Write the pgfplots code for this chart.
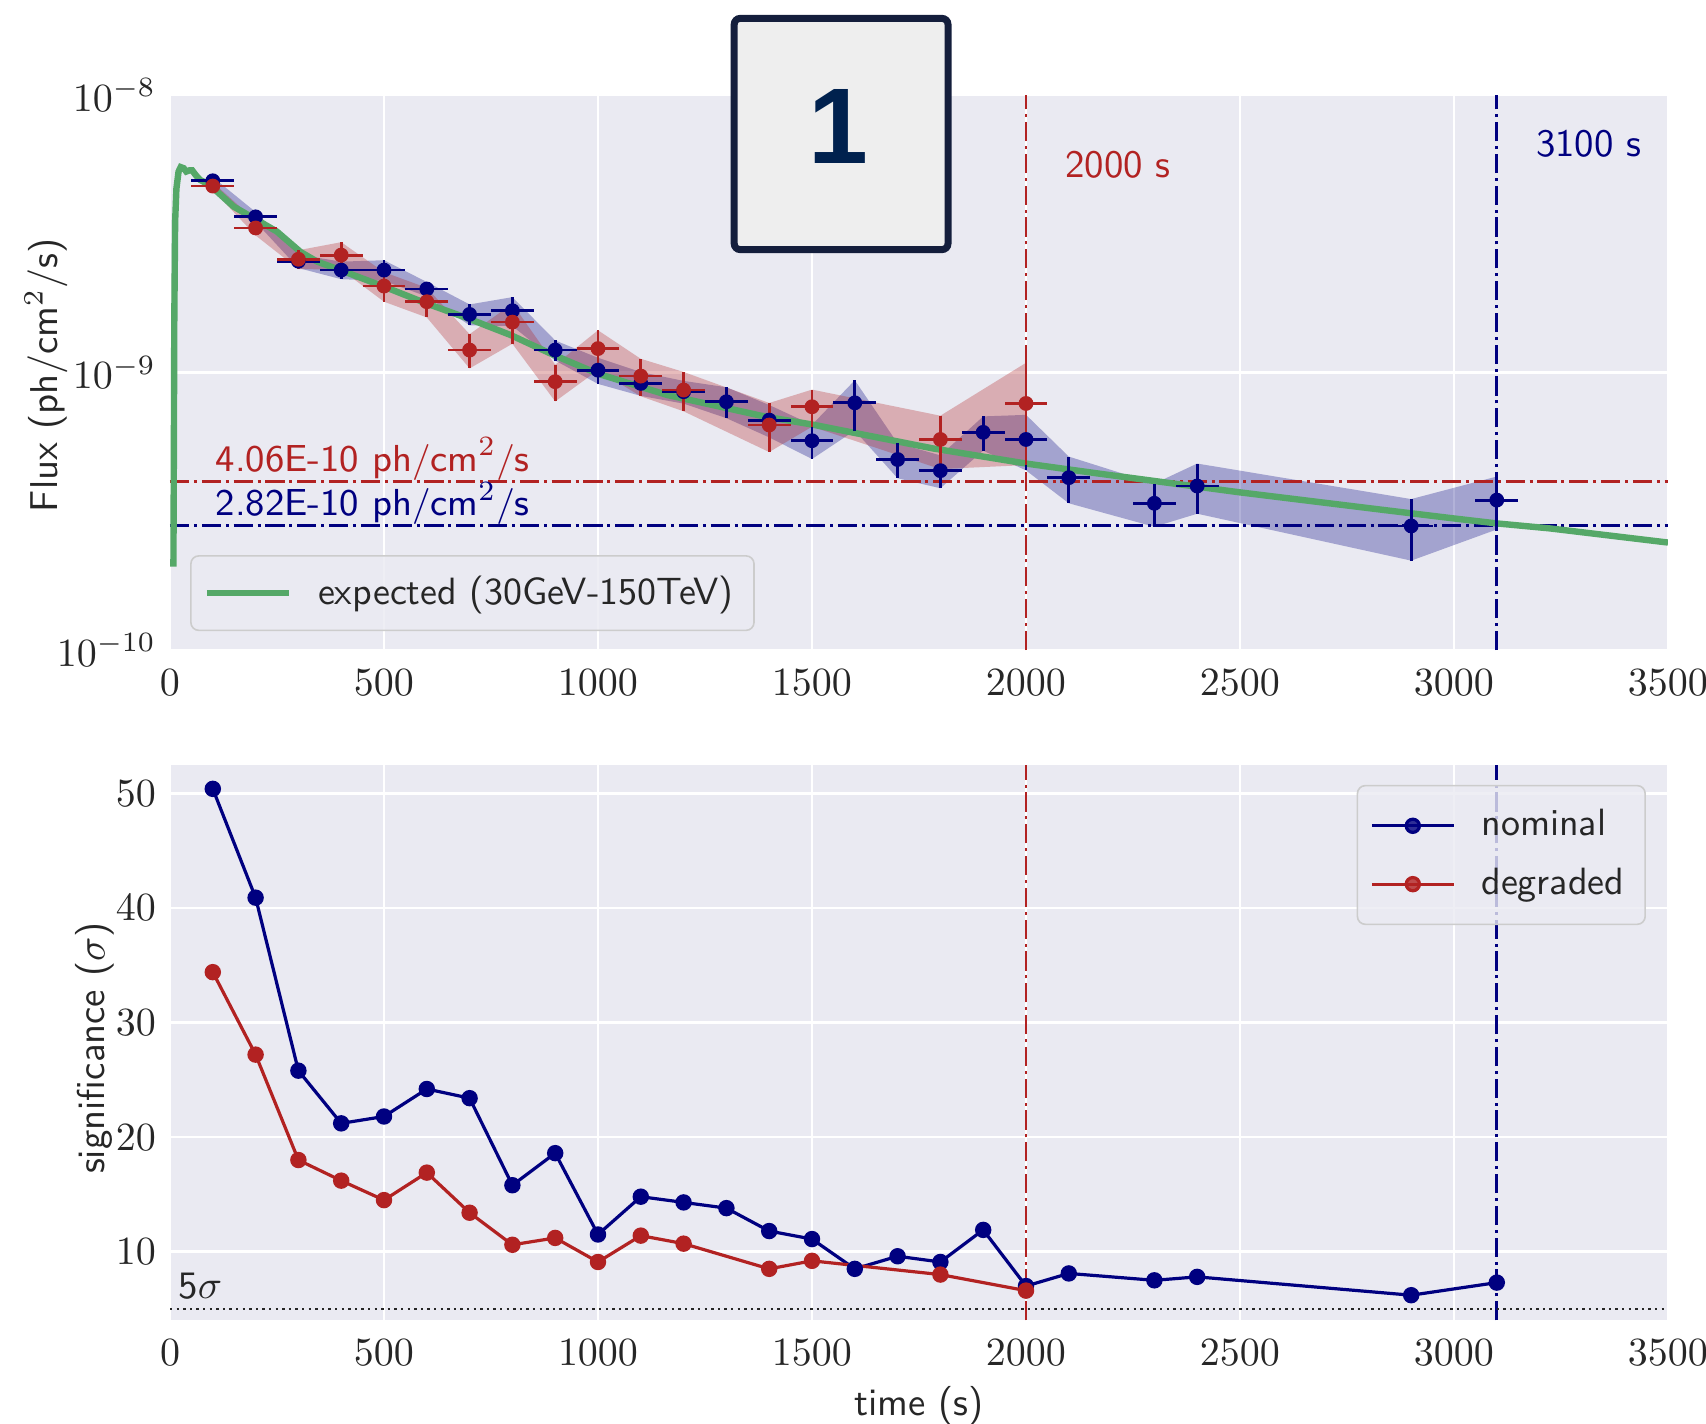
\documentclass[border=0pt]{standalone}
\usepackage{fontspec}
\usepackage{pgfplots}
\usepackage{pgfplotstable}
\pgfplotsset{compat=1.18}
\newfontfamily\boxfont{Liberation Sans}

\definecolor{axbg}{HTML}{EAEAF2}
\definecolor{navy}{HTML}{000080}
\definecolor{firebrick}{HTML}{B22222}
\definecolor{sgreen}{HTML}{55A868}
\definecolor{txt}{HTML}{262626}
\definecolor{legedge}{HTML}{CCCCCC}
\definecolor{boxfill}{HTML}{EEEEEE}
\definecolor{boxedge}{HTML}{141E3C}
\definecolor{boxdigit}{HTML}{00214E}

% flux light curves: time, flux, error
\pgfplotstableread{
t f e
100 4.91e-9 0.15e-9
200 3.64e-9 0.15e-9
300 2.52e-9 0.14e-9
400 2.34e-9 0.17e-9
500 2.34e-9 0.20e-9
600 2.00e-9 0.12e-9
700 1.62e-9 0.14e-9
800 1.67e-9 0.20e-9
900 1.205e-9 0.10e-9
1000 1.02e-9 0.11e-9
1100 0.914e-9 0.09e-9
1200 0.853e-9 0.08e-9
1300 0.785e-9 0.10e-9
1400 0.674e-9 0.09e-9
1500 0.568e-9 0.08e-9
1600 0.778e-9 0.16e-9
1700 0.486e-9 0.07e-9
1800 0.443e-9 0.06e-9
1900 0.609e-9 0.086e-9
2000 0.574e-9 0.13e-9
2100 0.418e-9 0.08e-9
2300 0.338e-9 0.06e-9
2400 0.390e-9 0.08e-9
2900 0.280e-9 0.07e-9
3100 0.347e-9 0.075e-9
}\fluxnom

\pgfplotstableread{
t f e
100 4.70e-9 0.15e-9
200 3.32e-9 0.20e-9
300 2.56e-9 0.20e-9
400 2.65e-9 0.30e-9
500 2.05e-9 0.25e-9
600 1.80e-9 0.22e-9
700 1.205e-9 0.17e-9
800 1.52e-9 0.25e-9
900 0.927e-9 0.14e-9
1000 1.22e-9 0.20e-9
1100 0.971e-9 0.15e-9
1200 0.865e-9 0.14e-9
1400 0.647e-9 0.13e-9
1500 0.753e-9 0.115e-9
1800 0.574e-9 0.125e-9
2000 0.774e-9 0.31e-9
}\fluxdeg

% error bands as closed outlines: upper edge (s=1) out, lower edge (s=-1) back
\pgfplotstableread{
t f e s
100 4.91e-9 0.15e-9 1
200 3.64e-9 0.15e-9 1
300 2.52e-9 0.14e-9 1
400 2.34e-9 0.17e-9 1
500 2.34e-9 0.20e-9 1
600 2.00e-9 0.12e-9 1
700 1.62e-9 0.14e-9 1
800 1.67e-9 0.20e-9 1
900 1.205e-9 0.10e-9 1
1000 1.02e-9 0.11e-9 1
1100 0.914e-9 0.09e-9 1
1200 0.853e-9 0.08e-9 1
1300 0.785e-9 0.10e-9 1
1400 0.674e-9 0.09e-9 1
1500 0.568e-9 0.08e-9 1
1600 0.778e-9 0.16e-9 1
1700 0.486e-9 0.07e-9 1
1800 0.443e-9 0.06e-9 1
1900 0.609e-9 0.086e-9 1
2000 0.574e-9 0.13e-9 1
2100 0.418e-9 0.08e-9 1
2300 0.338e-9 0.06e-9 1
2400 0.390e-9 0.08e-9 1
2900 0.280e-9 0.07e-9 1
3100 0.347e-9 0.075e-9 1
3100 0.347e-9 0.075e-9 -1
2900 0.280e-9 0.07e-9 -1
2400 0.390e-9 0.08e-9 -1
2300 0.338e-9 0.06e-9 -1
2100 0.418e-9 0.08e-9 -1
2000 0.574e-9 0.13e-9 -1
1900 0.609e-9 0.086e-9 -1
1800 0.443e-9 0.06e-9 -1
1700 0.486e-9 0.07e-9 -1
1600 0.778e-9 0.16e-9 -1
1500 0.568e-9 0.08e-9 -1
1400 0.674e-9 0.09e-9 -1
1300 0.785e-9 0.10e-9 -1
1200 0.853e-9 0.08e-9 -1
1100 0.914e-9 0.09e-9 -1
1000 1.02e-9 0.11e-9 -1
900 1.205e-9 0.10e-9 -1
800 1.67e-9 0.20e-9 -1
700 1.62e-9 0.14e-9 -1
600 2.00e-9 0.12e-9 -1
500 2.34e-9 0.20e-9 -1
400 2.34e-9 0.17e-9 -1
300 2.52e-9 0.14e-9 -1
200 3.64e-9 0.15e-9 -1
100 4.91e-9 0.15e-9 -1
}\bandnom

\pgfplotstableread{
t f e s
100 4.70e-9 0.15e-9 1
200 3.32e-9 0.20e-9 1
300 2.56e-9 0.20e-9 1
400 2.65e-9 0.30e-9 1
500 2.05e-9 0.25e-9 1
600 1.80e-9 0.22e-9 1
700 1.205e-9 0.17e-9 1
800 1.52e-9 0.25e-9 1
900 0.927e-9 0.14e-9 1
1000 1.22e-9 0.20e-9 1
1100 0.971e-9 0.15e-9 1
1200 0.865e-9 0.14e-9 1
1400 0.647e-9 0.13e-9 1
1500 0.753e-9 0.115e-9 1
1800 0.574e-9 0.125e-9 1
2000 0.774e-9 0.31e-9 1
2000 0.774e-9 0.31e-9 -1
1800 0.574e-9 0.125e-9 -1
1500 0.753e-9 0.115e-9 -1
1400 0.647e-9 0.13e-9 -1
1200 0.865e-9 0.14e-9 -1
1100 0.971e-9 0.15e-9 -1
1000 1.22e-9 0.20e-9 -1
900 0.927e-9 0.14e-9 -1
800 1.52e-9 0.25e-9 -1
700 1.205e-9 0.17e-9 -1
600 1.80e-9 0.22e-9 -1
500 2.05e-9 0.25e-9 -1
400 2.65e-9 0.30e-9 -1
300 2.56e-9 0.20e-9 -1
200 3.32e-9 0.20e-9 -1
100 4.70e-9 0.15e-9 -1
}\banddeg

% expected flux curve
\pgfplotstableread{
t f
8 2.0e-10
9 5.0e-10
10 1.5e-9
12 3.5e-9
15 4.6e-9
20 5.3e-9
25 5.5e-9
32 5.45e-9
38 5.3e-9
45 5.35e-9
52 5.35e-9
60 5.15e-9
70 4.95e-9
93 4.74e-9
149 3.96e-9
196 3.60e-9
250 3.22e-9
305 2.72e-9
344 2.51e-9
398 2.34e-9
500 2.04e-9
601 1.77e-9
695 1.57e-9
796 1.365e-9
897 1.156e-9
1000 0.99e-9
1162 0.83e-9
1392 0.693e-9
1500 0.65e-9
1782 0.533e-9
2000 0.47e-9
2172 0.432e-9
2500 0.37e-9
2834 0.32e-9
3000 0.298e-9
3100 0.286e-9
3223 0.2745e-9
3500 0.244e-9
}\fluxexp

% significance
\pgfplotstableread{
t s
100 50.4
200 40.9
300 25.8
400 21.2
500 21.8
600 24.2
700 23.4
800 15.8
900 18.6
1000 11.5
1100 14.8
1200 14.3
1300 13.8
1400 11.8
1500 11.1
1600 8.5
1700 9.6
1800 9.1
1900 11.9
2000 7.0
2100 8.1
2300 7.5
2400 7.8
2900 6.2
3100 7.3
}\signom

\pgfplotstableread{
t s
100 34.4
200 27.2
300 18.0
400 16.2
500 14.5
600 16.9
700 13.4
800 10.6
900 11.2
1000 9.1
1100 11.4
1200 10.7
1400 8.5
1500 9.2
1800 8.0
2000 6.6
}\sigdeg

\pgfplotsset{
  panel/.style={
    scale only axis, width=374.5pt,
    xmin=0, xmax=3500, xtick={0,500,...,3500},
    axis background/.style={fill=axbg},
    axis line style={draw=none},
    major tick length=0pt, minor tick length=0pt,
    grid=major, major grid style={white, line width=0.6pt},
    tick label style={font=\fontsize{9.9}{12}\selectfont, text=txt},
    xticklabel style={yshift=-1.3pt},
    label style={font=\sffamily\fontsize{9.7}{12}\selectfont, text=txt},
    /pgf/number format/1000 sep={},
    legend style={font=\sffamily\fontsize{9.5}{11.5}\selectfont, text=txt,
      draw=legedge, fill=axbg, fill opacity=0.8, text opacity=1,
      rounded corners=2pt, inner xsep=3.2pt, inner ysep=3pt,
      /tikz/every odd column/.append style={column sep=4.5pt}},
    legend cell align=left,
    legend image code/.code={
      \draw[mark repeat=2, mark phase=2, #1]
        plot coordinates {(0pt,0pt) (10.25pt,0pt) (20.5pt,0pt)};},
  },
  dd/.style={line width=0.7pt, dash pattern=on 4.8pt off 1.2pt on 0.75pt off 1.2pt},
}

\begin{document}
\begin{tikzpicture}
\useasboundingbox (0,0) rectangle (426.5pt,-356pt);

% ---- flux panel ----
\begin{axis}[panel,
  at={(42.5pt,-162.5pt)}, anchor=south west, height=138.75pt,
  ymode=log, ymin=1e-10, ymax=1e-8, ytick={1e-10,1e-9,1e-8},
  ylabel={Flux (ph$/$cm$^2/$s)},
  ylabel style={at={(rel axis cs:-0.0828,0.495)}, anchor=center},
  legend style={at={(0.0134,0.034)}, anchor=south west},
]
  % uncertainty bands
  \addplot[fill=navy, fill opacity=0.3, draw=none, forget plot]
    table[x=t, y expr=\thisrow{f}+\thisrow{s}*\thisrow{e}] {\bandnom};
  \addplot[fill=firebrick, fill opacity=0.3, draw=none, forget plot]
    table[x=t, y expr=\thisrow{f}+\thisrow{s}*\thisrow{e}] {\banddeg};

  % reference lines
  \addplot[dd, firebrick, forget plot] coordinates {(0,4.06e-10) (3500,4.06e-10)};
  \addplot[dd, navy, forget plot] coordinates {(0,2.82e-10) (3500,2.82e-10)};
  \addplot[dd, firebrick, forget plot] coordinates {(2000,1e-10) (2000,1e-8)};
  \addplot[dd, navy, forget plot] coordinates {(3100,1e-10) (3100,1e-8)};

  % expected curve
  \addplot[sgreen, line width=1.6pt] table[x=t, y=f] {\fluxexp};
  \addlegendentry{expected (30GeV-150TeV)}

  % measured points
  \addplot[navy, only marks, mark=*, mark size=1.65pt, forget plot,
    error bars/.cd, x dir=both, x fixed=50, y dir=both, y explicit,
    error mark=none, error bar style={line width=0.7pt, navy}]
    table[x=t, y=f, y error=e] {\fluxnom};
  \addplot[firebrick, only marks, mark=*, mark size=1.65pt, forget plot,
    error bars/.cd, x dir=both, x fixed=50, y dir=both, y explicit,
    error mark=none, error bar style={line width=0.7pt, firebrick}]
    table[x=t, y=f, y error=e] {\fluxdeg};

  \node[anchor=base west, inner sep=0pt, text=firebrick, font=\sffamily\fontsize{9.4}{12}\selectfont]
    at (axis cs:105,4.41e-10) {4.06E-10 ph$/$cm$^2/$s};
  \node[anchor=base west, inner sep=0pt, text=navy, font=\sffamily\fontsize{9.4}{12}\selectfont]
    at (axis cs:105,3.05e-10) {2.82E-10 ph$/$cm$^2/$s};
  \node[anchor=west, inner sep=0pt, text=firebrick, font=\sffamily\fontsize{9.7}{12}\selectfont]
    at (axis cs:2090,5.6e-9) {2000 s};
  \node[anchor=west, inner sep=0pt, text=navy, font=\sffamily\fontsize{9.7}{12}\selectfont]
    at (axis cs:3190,6.7e-9) {3100 s};
\end{axis}

% ---- significance panel ----
\begin{axis}[panel,
  at={(42.5pt,-330.1pt)}, anchor=south west, height=138.9pt,
  ymin=4.0, ymax=52.5, ytick={10,20,30,40,50},
  xlabel={time (s)}, ylabel={significance ($\sigma$)},
  xlabel style={yshift=1.6pt},
  ylabel style={at={(rel axis cs:-0.0501,0.49)}, anchor=center},
  legend style={at={(0.9853,0.964)}, anchor=north east, row sep=2.5pt, inner ysep=4pt},
]
  \addplot[dd, firebrick, forget plot] coordinates {(2000,4) (2000,52.5)};
  \addplot[dd, navy, forget plot] coordinates {(3100,4) (3100,52.5)};
  \addplot[txt, line width=0.7pt, dash pattern=on 0.6pt off 1.05pt, forget plot]
    coordinates {(0,5) (3500,5)};

  \addplot[navy, line width=0.8pt, mark=*, mark size=1.65pt, mark options={solid, fill=navy}]
    table[x=t, y=s] {\signom};
  \addlegendentry{nominal}
  \addplot[firebrick, line width=0.8pt, mark=*, mark size=1.65pt, mark options={solid, fill=firebrick}]
    table[x=t, y=s] {\sigdeg};
  \addlegendentry{degraded}

  \node[anchor=west, inner sep=0pt, text=txt, font=\sffamily\fontsize{9.7}{12}\selectfont]
    at (axis cs:18,7.0) {5$\sigma$};
\end{axis}

% panel badge
\draw[line width=1.75pt, draw=boxedge, fill=boxfill, rounded corners=1.5pt]
  (183.55pt,-4.6pt) rectangle (237.0pt,-62.4pt);
\node[inner sep=0pt, text=boxdigit, font=\boxfont\bfseries\fontsize{26.9}{30}\selectfont]
  at (209.6pt,-31.6pt) {1};
\end{tikzpicture}
\end{document}
